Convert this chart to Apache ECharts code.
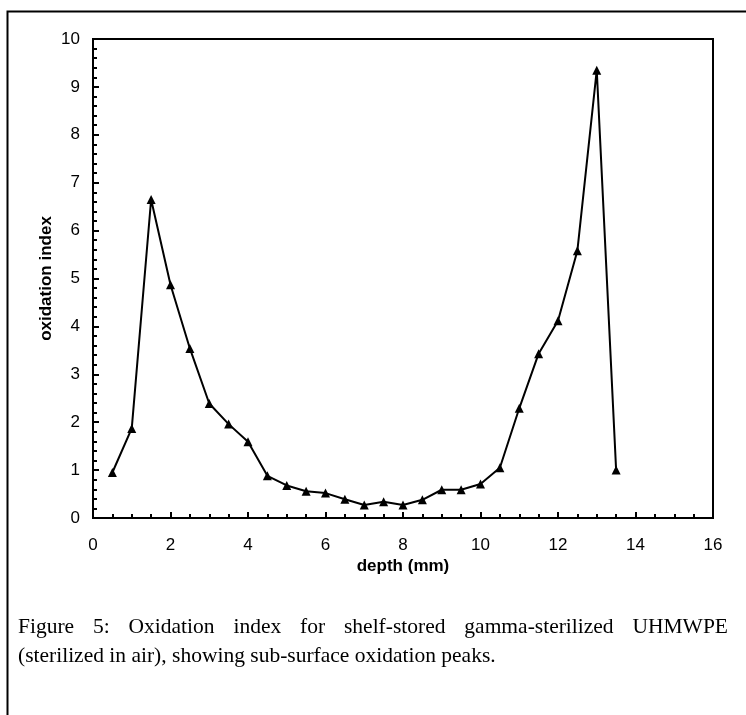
<!DOCTYPE html>
<html>
<head>
<meta charset="utf-8">
<script src="https://cdn.jsdelivr.net/npm/echarts@6/dist/echarts.min.js"></script>
<style>html,body{margin:0;padding:0;background:#fff;}#c{width:746px;height:715px;}</style>
</head>
<body>
<div id="c"></div>
<script>
const depth = [0.5, 1, 1.5, 2, 2.5, 3, 3.5, 4, 4.5, 5, 5.5, 6, 6.5, 7, 7.5, 8, 8.5, 9, 9.5, 10, 10.5, 11, 11.5, 12, 12.5, 13, 13.5];
const oxidation = [0.95, 1.87, 6.65, 4.87, 3.54, 2.39, 1.96, 1.59, 0.88, 0.68, 0.56, 0.52, 0.39, 0.27, 0.34, 0.27, 0.38, 0.59, 0.59, 0.71, 1.05, 2.29, 3.43, 4.12, 5.58, 9.35, 1.0];
const xTicks = [0, 2, 4, 6, 8, 10, 12, 14, 16];
const yTicks = [0, 1, 2, 3, 4, 5, 6, 7, 8, 9, 10];
const xTitle = 'depth (mm)';
const yTitle = 'oxidation index';
const captionLine1 = 'Figure 5: Oxidation index for shelf-stored gamma-sterilized UHMWPE';
const captionLine2 = '(sterilized in air), showing sub-surface oxidation peaks.';

const sansFont = 'Liberation Sans, Arial, sans-serif';
const serifFont = 'Liberation Serif, Times New Roman, serif';
const capSize = 21.5;

// justified first caption line
function justify(line, x0, x1, y) {
  const cv = document.createElement('canvas');
  const ctx = cv.getContext('2d');
  ctx.font = capSize + 'px "Liberation Serif"';
  const words = line.split(' ');
  const widths = words.map(w => ctx.measureText(w).width);
  const total = widths.reduce((a, b) => a + b, 0);
  const gap = (x1 - x0 - total) / (words.length - 1);
  let x = x0;
  return words.map((w, i) => {
    const el = {type: 'text', left: x, top: y, style: {text: w, font: capSize + 'px ' + serifFont, fill: '#000'}};
    x += widths[i] + gap;
    return el;
  });
}

const chart = echarts.init(document.getElementById('c'));
chart.setOption({
  backgroundColor: '#fff',
  animation: false,
  grid: {left: 93, top: 39, right: 33, bottom: 197, show: true, borderColor: '#000', borderWidth: 2, backgroundColor: 'transparent'},
  xAxis: {
    type: 'value', min: xTicks[0], max: xTicks[xTicks.length - 1], interval: xTicks[1] - xTicks[0],
    name: xTitle, nameLocation: 'middle', nameGap: 40, nameMoveOverlap: false,
    nameTextStyle: {fontFamily: sansFont, fontWeight: 'bold', fontSize: 17, color: '#000'},
    axisLine: {show: true, onZero: false, lineStyle: {color: '#000', width: 2}},
    axisTick: {show: true, inside: true, length: 6, lineStyle: {color: '#000', width: 2}},
    minorTick: {show: true, splitNumber: 4, length: 4, lineStyle: {color: '#000', width: 2}},
    axisLabel: {margin: 19, fontFamily: sansFont, fontSize: 17, color: '#000'},
    splitLine: {show: false}
  },
  yAxis: {
    type: 'value', min: yTicks[0], max: yTicks[yTicks.length - 1], interval: yTicks[1] - yTicks[0],
    name: yTitle, nameLocation: 'middle', nameGap: 38, nameMoveOverlap: false,
    nameTextStyle: {fontFamily: sansFont, fontWeight: 'bold', fontSize: 17, color: '#000'},
    axisLine: {show: true, onZero: false, lineStyle: {color: '#000', width: 2}},
    axisTick: {show: true, inside: true, length: 6, lineStyle: {color: '#000', width: 2}},
    minorTick: {show: true, splitNumber: 5, length: 4, lineStyle: {color: '#000', width: 2}},
    axisLabel: {margin: 13, fontFamily: sansFont, fontSize: 17, color: '#000'},
    splitLine: {show: false}
  },
  series: [{
    type: 'line',
    data: depth.map((d, i) => [d, oxidation[i]]),
    symbol: 'triangle', symbolSize: 9, showAllSymbol: true,
    lineStyle: {color: '#000', width: 2},
    itemStyle: {color: '#000'}
  }],
  graphic: [
    {type: 'rect', left: 5, top: 9, shape: {width: 800, height: 800}, style: {fill: 'none', stroke: '#000', lineWidth: 2}, silent: true},
    ...justify(captionLine1, 18, 728, 616),
    {type: 'text', left: 18, top: 645, style: {text: captionLine2, font: capSize + 'px ' + serifFont, fill: '#000'}}
  ]
});
</script>
</body>
</html>
